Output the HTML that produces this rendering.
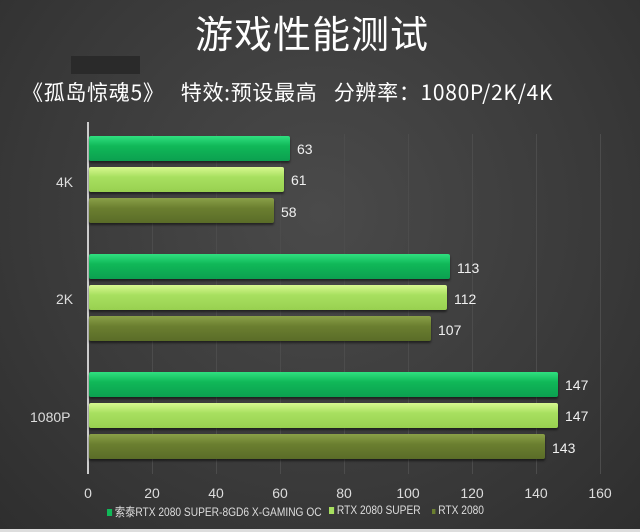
<!DOCTYPE html>
<html><head><meta charset="utf-8"><style>
body{margin:0}
#c{position:relative;width:640px;height:532px;overflow:hidden;background:radial-gradient(ellipse at 50% 40%,#4a4a4a 0%,#3a3a3a 60%,#2e2e2e 100%);font-family:"Liberation Sans","Noto Sans CJK SC",sans-serif;color:#e8e8e8}
.t{position:absolute;white-space:nowrap}
.g{position:absolute;top:134px;height:340px;width:1px;background:#4c4c4c}
.b{position:absolute;left:89px;height:25px;border-radius:2px;box-shadow:0 2px 2px rgba(0,0,0,.5)}
.b1{background:linear-gradient(#30e080,#10b858 40%,#0ca050)}
.b2{background:linear-gradient(#d8f890,#a8e060 40%,#98d050)}
.b3{background:linear-gradient(#8aa048,#6b7f30 40%,#5a6c28)}
.v{position:absolute;font-size:14px;color:#f0f0f0}
.x{position:absolute;top:485px;font-size:14px;width:40px;text-align:center;color:#ddd}
.lg{position:absolute;top:503px;font-size:12px;color:#ddd;white-space:nowrap;transform-origin:0 0;transform:scaleX(0.85)}
</style></head><body><div id="c">
<div class="t" style="left:0;width:640px;text-align:center;top:4px;font-size:38px;color:#fff;font-family:'Noto Sans CJK SC',sans-serif;letter-spacing:1px;transform:translateX(-8px)">游戏性能测试</div>
<div style="position:absolute;left:71px;top:56px;width:69px;height:18px;background:#2a2a2a"></div>
<div class="t" style="left:22px;top:77px;font-size:21px;color:#fff;font-family:'Noto Sans CJK SC',sans-serif;letter-spacing:0.7px">《孤岛惊魂5》 &nbsp; 特效:预设最高 &nbsp; 分辨率：1080P/2K/4K</div>
<div class="g" style="left:152px"></div><div class="g" style="left:216px"></div><div class="g" style="left:280px"></div><div class="g" style="left:344px"></div><div class="g" style="left:408px"></div><div class="g" style="left:472px"></div><div class="g" style="left:536px"></div><div class="g" style="left:600px"></div>
<div style="position:absolute;left:87px;top:122px;width:2px;height:352px;background:#ccc"></div>
<div class="b b1" style="top:136px;width:201px"></div><div class="v" style="left:297px;top:141px">63</div>
<div class="b b2" style="top:167px;width:195px"></div><div class="v" style="left:291px;top:172px">61</div>
<div class="b b3" style="top:198px;width:185px"></div><div class="v" style="left:281px;top:204px">58</div>
<div class="b b1" style="top:254px;width:361px"></div><div class="v" style="left:457px;top:260px">113</div>
<div class="b b2" style="top:285px;width:358px"></div><div class="v" style="left:454px;top:291px">112</div>
<div class="b b3" style="top:316px;width:342px"></div><div class="v" style="left:438px;top:322px">107</div>
<div class="b b1" style="top:372px;width:469px"></div><div class="v" style="left:565px;top:377px">147</div>
<div class="b b2" style="top:403px;width:469px"></div><div class="v" style="left:565px;top:408px">147</div>
<div class="b b3" style="top:434px;width:456px"></div><div class="v" style="left:552px;top:440px">143</div>
<div class="v" style="left:56px;top:174px;color:#ddd">4K</div>
<div class="v" style="left:56px;top:291px;color:#ddd">2K</div>
<div class="v" style="left:30px;top:409px;color:#ddd">1080P</div>
<div class="x" style="left:68px">0</div><div class="x" style="left:132px">20</div><div class="x" style="left:196px">40</div><div class="x" style="left:260px">60</div><div class="x" style="left:324px">80</div><div class="x" style="left:388px">100</div><div class="x" style="left:452px">120</div><div class="x" style="left:516px">140</div><div class="x" style="left:580px">160</div>
<div class="lg" style="left:107px"><span style="display:inline-block;width:6px;height:7px;background:#10b858"></span> 索泰RTX 2080 SUPER-8GD6 X-GAMING OC</div>
<div class="lg" style="left:329px"><span style="display:inline-block;width:6px;height:7px;background:#a8e060"></span> RTX 2080 SUPER</div>
<div class="lg" style="left:432px"><span style="display:inline-block;width:4px;height:5px;background:#6b7f30"></span> RTX 2080</div>
<div style="position:absolute;left:0;top:529px;width:640px;height:3px;background:#ddd"></div>
</div></body></html>
